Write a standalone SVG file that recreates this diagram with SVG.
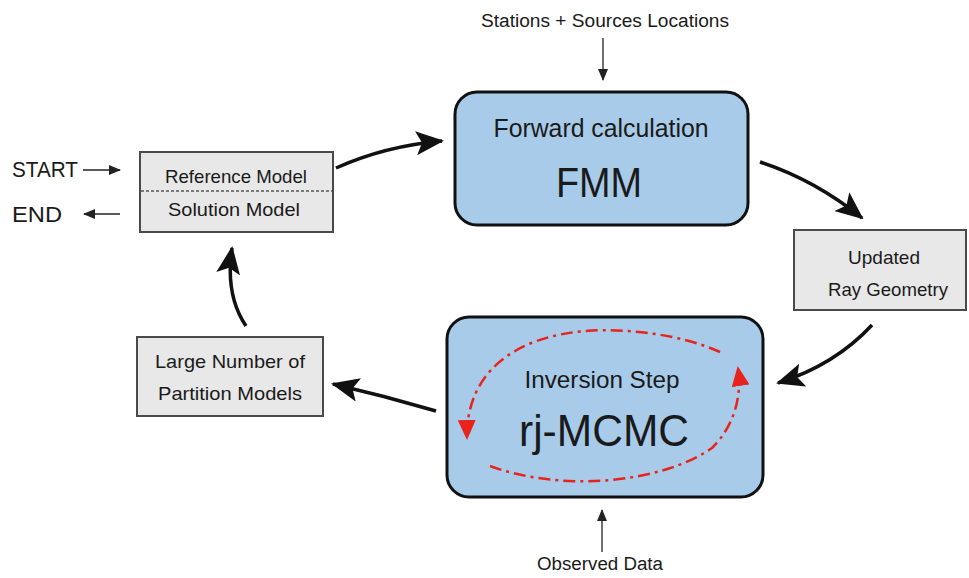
<svg xmlns="http://www.w3.org/2000/svg" width="969" height="578" viewBox="0 0 969 578">
<style>
text{font-family:"Liberation Sans","DejaVu Sans",sans-serif;fill:#1a1a1a;text-anchor:middle}
.gbox{fill:#e8e8e8;stroke:#4a4a4a;stroke-width:2}
.bbox{fill:#a8cbea;stroke:#111;stroke-width:3}
.big{stroke:#111;stroke-width:3.5;fill:none}
.thin{stroke:#222;stroke-width:1.3;fill:none}
.red{stroke:#e8231c;stroke-width:2.5;fill:none;stroke-dasharray:12 5 3 5}
</style>
<defs>
<marker id="ah" markerUnits="userSpaceOnUse" markerWidth="28" markerHeight="24" refX="26" refY="12" orient="auto">
<path d="M0,0 L28,12 L0,24 L6,12 Z" fill="#111"/>
</marker>
<marker id="sh" markerUnits="userSpaceOnUse" markerWidth="12" markerHeight="10" refX="11" refY="5" orient="auto">
<path d="M0,0 L12,5 L0,10 Z" fill="#222"/>
</marker>
<marker id="rh" markerUnits="userSpaceOnUse" markerWidth="20" markerHeight="18" refX="18" refY="9" orient="auto">
<path d="M0,0 L20,9 L0,18 Z" fill="#e8231c"/>
</marker>
</defs>
<g id="connectors">
<path class="thin" d="M83,170 L120,170" marker-end="url(#sh)"/>
<path class="thin" d="M120,214 L84,214" marker-end="url(#sh)"/>
<path class="thin" d="M603,38 L603,80" marker-end="url(#sh)"/>
<path class="thin" d="M602,552 L602,510" marker-end="url(#sh)"/>
<path class="big" d="M336,168 Q385,146 442,141" marker-end="url(#ah)"/>
<path class="big" d="M760,162 Q815,180 862,218" marker-end="url(#ah)"/>
<path class="big" d="M872,325 Q835,365 778,383" marker-end="url(#ah)"/>
<path class="big" d="M436,411 Q385,396 333,384" marker-end="url(#ah)"/>
<path class="big" d="M246,326 Q225,295 232,248" marker-end="url(#ah)"/>
</g>
<g id="reference">
<rect class="gbox" x="140" y="152" width="193" height="80"/>
<line x1="141" y1="191" x2="332" y2="191" stroke="#555" stroke-width="1.5" stroke-dasharray="3 2"/>
<text x="236" y="183" font-size="19" textLength="142" lengthAdjust="spacingAndGlyphs">Reference Model</text>
<text x="234" y="216" font-size="19" textLength="132" lengthAdjust="spacingAndGlyphs">Solution Model</text>
</g>
<g id="start"><text x="45" y="177" font-size="22" textLength="66" lengthAdjust="spacingAndGlyphs">START</text></g>
<g id="end"><text x="37" y="222" font-size="22" textLength="50" lengthAdjust="spacingAndGlyphs">END</text></g>
<g id="inputs"><text x="605" y="27" font-size="18" textLength="248" lengthAdjust="spacingAndGlyphs">Stations + Sources Locations</text></g>
<g id="fmm">
<rect class="bbox" x="455" y="92" width="293" height="133" rx="22"/>
<text x="601" y="137" font-size="25" textLength="215" lengthAdjust="spacingAndGlyphs">Forward calculation</text>
<text x="599" y="197" font-size="42" textLength="86" lengthAdjust="spacingAndGlyphs">FMM</text>
</g>
<g id="ray">
<rect class="gbox" x="794" y="230" width="172" height="80"/>
<text x="884" y="264" font-size="19" textLength="72" lengthAdjust="spacingAndGlyphs">Updated</text>
<text x="888" y="296" font-size="19" textLength="120" lengthAdjust="spacingAndGlyphs">Ray Geometry</text>
</g>
<g id="rjmcmc">
<rect class="bbox" x="447" y="317" width="316" height="180" rx="22"/>
<path class="red" d="M720,352 C680,334 625,328 585,331 C515,337 466,372 467,438" marker-end="url(#rh)"/>
<path class="red" d="M490,466 C560,492 660,484 712,448 C735,425 742,395 738,368" marker-end="url(#rh)"/>
<text x="602" y="388" font-size="24" textLength="155" lengthAdjust="spacingAndGlyphs">Inversion Step</text>
<text x="604" y="446" font-size="44" textLength="170" lengthAdjust="spacingAndGlyphs">rj-MCMC</text>
</g>
<g id="partition">
<rect class="gbox" x="137" y="337" width="186" height="79"/>
<text x="230" y="368" font-size="19" textLength="150" lengthAdjust="spacingAndGlyphs">Large Number of</text>
<text x="230" y="400" font-size="19" textLength="144" lengthAdjust="spacingAndGlyphs">Partition Models</text>
</g>
<g id="observed"><text x="600" y="570" font-size="18" textLength="126" lengthAdjust="spacingAndGlyphs">Observed Data</text></g>
</svg>
